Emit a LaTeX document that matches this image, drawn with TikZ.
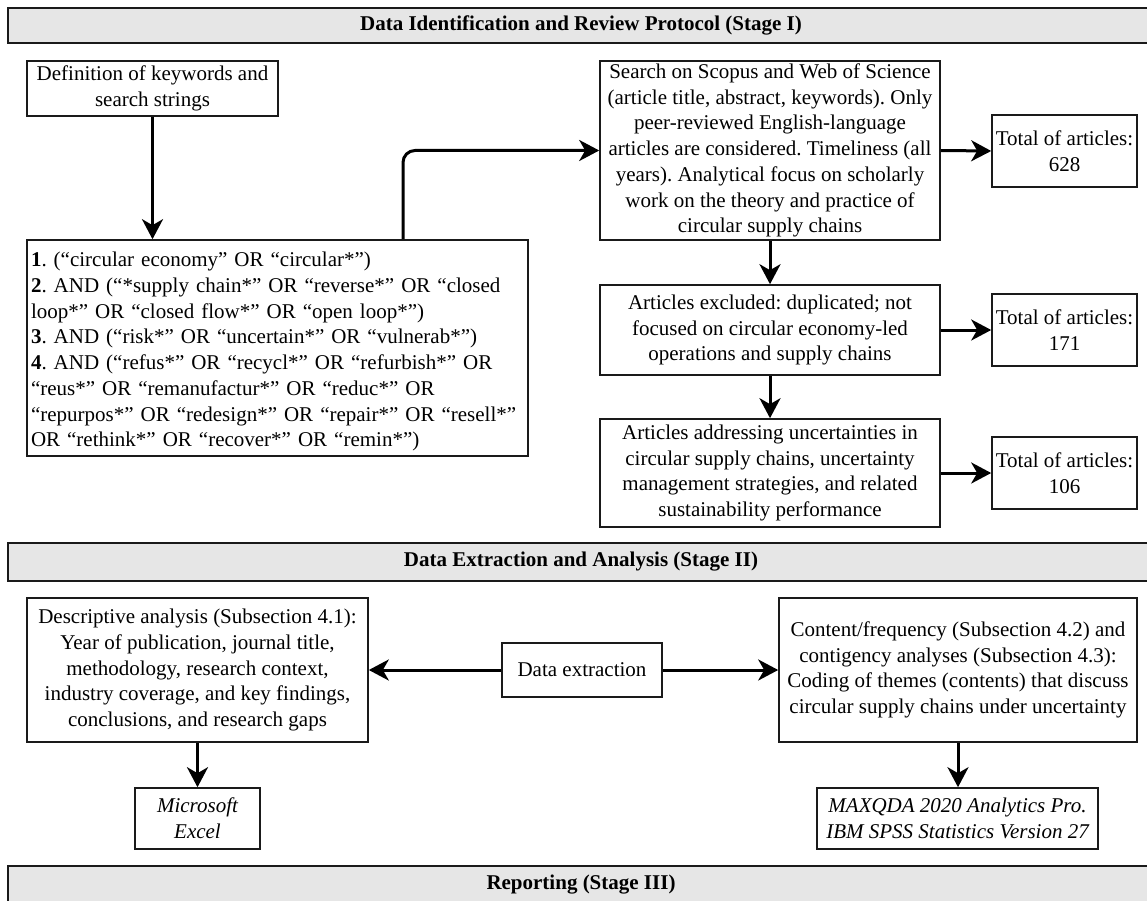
\documentclass[tikz,border=0pt]{standalone}
\usepackage{fontspec}
\setmainfont{Liberation Serif}
\usetikzlibrary{arrows.meta}
\definecolor{bangray}{HTML}{E6E6E6}
\definecolor{edge}{HTML}{1A1A1A}
\frenchspacing
\begin{document}
\begin{tikzpicture}[x=1pt,y=-1pt,
  box/.style={draw=edge, line width=1.6pt, fill=white, align=center, inner sep=2pt,
    font=\fontsize{21}{25.7}\selectfont},
  banner/.style={draw=edge, line width=2.2pt, fill=bangray, inner sep=0pt,
    font=\fontsize{21}{25.7}\selectfont\bfseries},
  arr/.style={draw=black, line width=3pt, -{Stealth[length=20pt,width=21pt,inset=6pt]}}
]
\useasboundingbox (0,0) rectangle (1147,901);
\clip (0,0) rectangle (1147,901);
\fill[white] (0,0) rectangle (1147,901);

% banners
\node[banner, minimum width=1146, minimum height=35] (ban1) at (581,25.5) {Data Identification and Review Protocol (Stage I)};
\node[banner, minimum width=1146, minimum height=38] (ban2) at (581,562) {Data Extraction and Analysis (Stage II)};
\node[banner, minimum width=1146, minimum height=37] (ban3) at (581,884.5) {Reporting (Stage III)};

% stage I
\node[box, minimum width=251, minimum height=55] (def) at (152.5,88.5) {Definition of keywords and\\search strings};
\node[box, align=left, text width=493pt, inner xsep=4pt, minimum height=216] (query) at (277.5,348)
{\rule{0pt}{22pt}\textbf{1}. (“circular economy” OR “circular*”)\\
\textbf{2}. AND (“*supply chain*” OR “reverse*” OR “closed\\
loop*” OR “closed flow*” OR “open loop*”)\\
\textbf{3}. AND (“risk*” OR “uncertain*” OR “vulnerab*”)\\
\textbf{4}. AND (“refus*” OR “recycl*” OR “refurbish*” OR\\
“reus*” OR “remanufactur*” OR “reduc*” OR\\
“repurpos*” OR “redesign*” OR “repair*” OR “resell*”\\
OR “rethink*” OR “recover*” OR “remin*”)};

\node[box, minimum width=340, minimum height=179, inner sep=0pt] (search) at (770,150.5)
{Search on Scopus and Web of Science\\(article title, abstract, keywords). Only\\peer-reviewed English-language\\articles are considered. Timeliness (all\\years). Analytical focus on scholarly\\work on the theory and practice of\\circular supply chains};
\node[box, minimum width=145, minimum height=72, inner sep=0pt] (t628) at (1064.5,151) {Total of articles:\\628};

\node[box, minimum width=340, minimum height=90] (excl) at (770,330)
{Articles excluded: duplicated; not\\focused on circular economy-led\\operations and supply chains};
\node[box, minimum width=145, minimum height=72, inner sep=0pt] (t171) at (1064.5,330) {Total of articles:\\171};

\node[box, minimum width=340, minimum height=108] (addr) at (770,473)
{Articles addressing uncertainties in\\circular supply chains, uncertainty\\management strategies, and related\\sustainability performance};
\node[box, minimum width=145, minimum height=72, inner sep=0pt] (t106) at (1064.5,473) {Total of articles:\\106};

% stage II
\node[box, minimum width=341, minimum height=144] (desc) at (197.5,670)
{Descriptive analysis (Subsection 4.1):\\Year of publication, journal title,\\methodology, research context,\\industry coverage, and key findings,\\conclusions, and research gaps};
\node[box, minimum width=160, minimum height=54] (de) at (582,670) {Data extraction};
\node[box, minimum width=358, minimum height=144, inner sep=0pt] (cont) at (958,670)
{Content/frequency (Subsection 4.2) and\\contigency analyses (Subsection 4.3):\\Coding of themes (contents) that discuss\\circular supply chains under uncertainty};
\node[box, minimum width=125, minimum height=61, font=\fontsize{21}{25.7}\selectfont\itshape] (excel) at (197.5,818.5) {Microsoft\\Excel};
\node[box, minimum width=281, minimum height=61, inner sep=0pt, font=\fontsize{21}{25.7}\selectfont\itshape] (maxq) at (957.5,818.5) {MAXQDA 2020 Analytics Pro.\\IBM SPSS Statistics Version 27};

% connectors
\draw[arr] (def.south) -- (def.south |- query.north);
\draw[arr, rounded corners=12pt] ([xshift=125.5pt]query.north) |- (search.west);
\draw[arr] (search.east) -- (t628.west);
\draw[arr] (search.south) -- (excl.north);
\draw[arr] (excl.east) -- (t171.west);
\draw[arr] (excl.south) -- (addr.north);
\draw[arr] (addr.east) -- (t106.west);
\draw[arr] (de.west) -- (desc.east);
\draw[arr] (de.east) -- (cont.west);
\draw[arr] (desc.south) -- (excel.north);
\draw[arr] (cont.south) -- (cont.south |- maxq.north);
\end{tikzpicture}
\end{document}
